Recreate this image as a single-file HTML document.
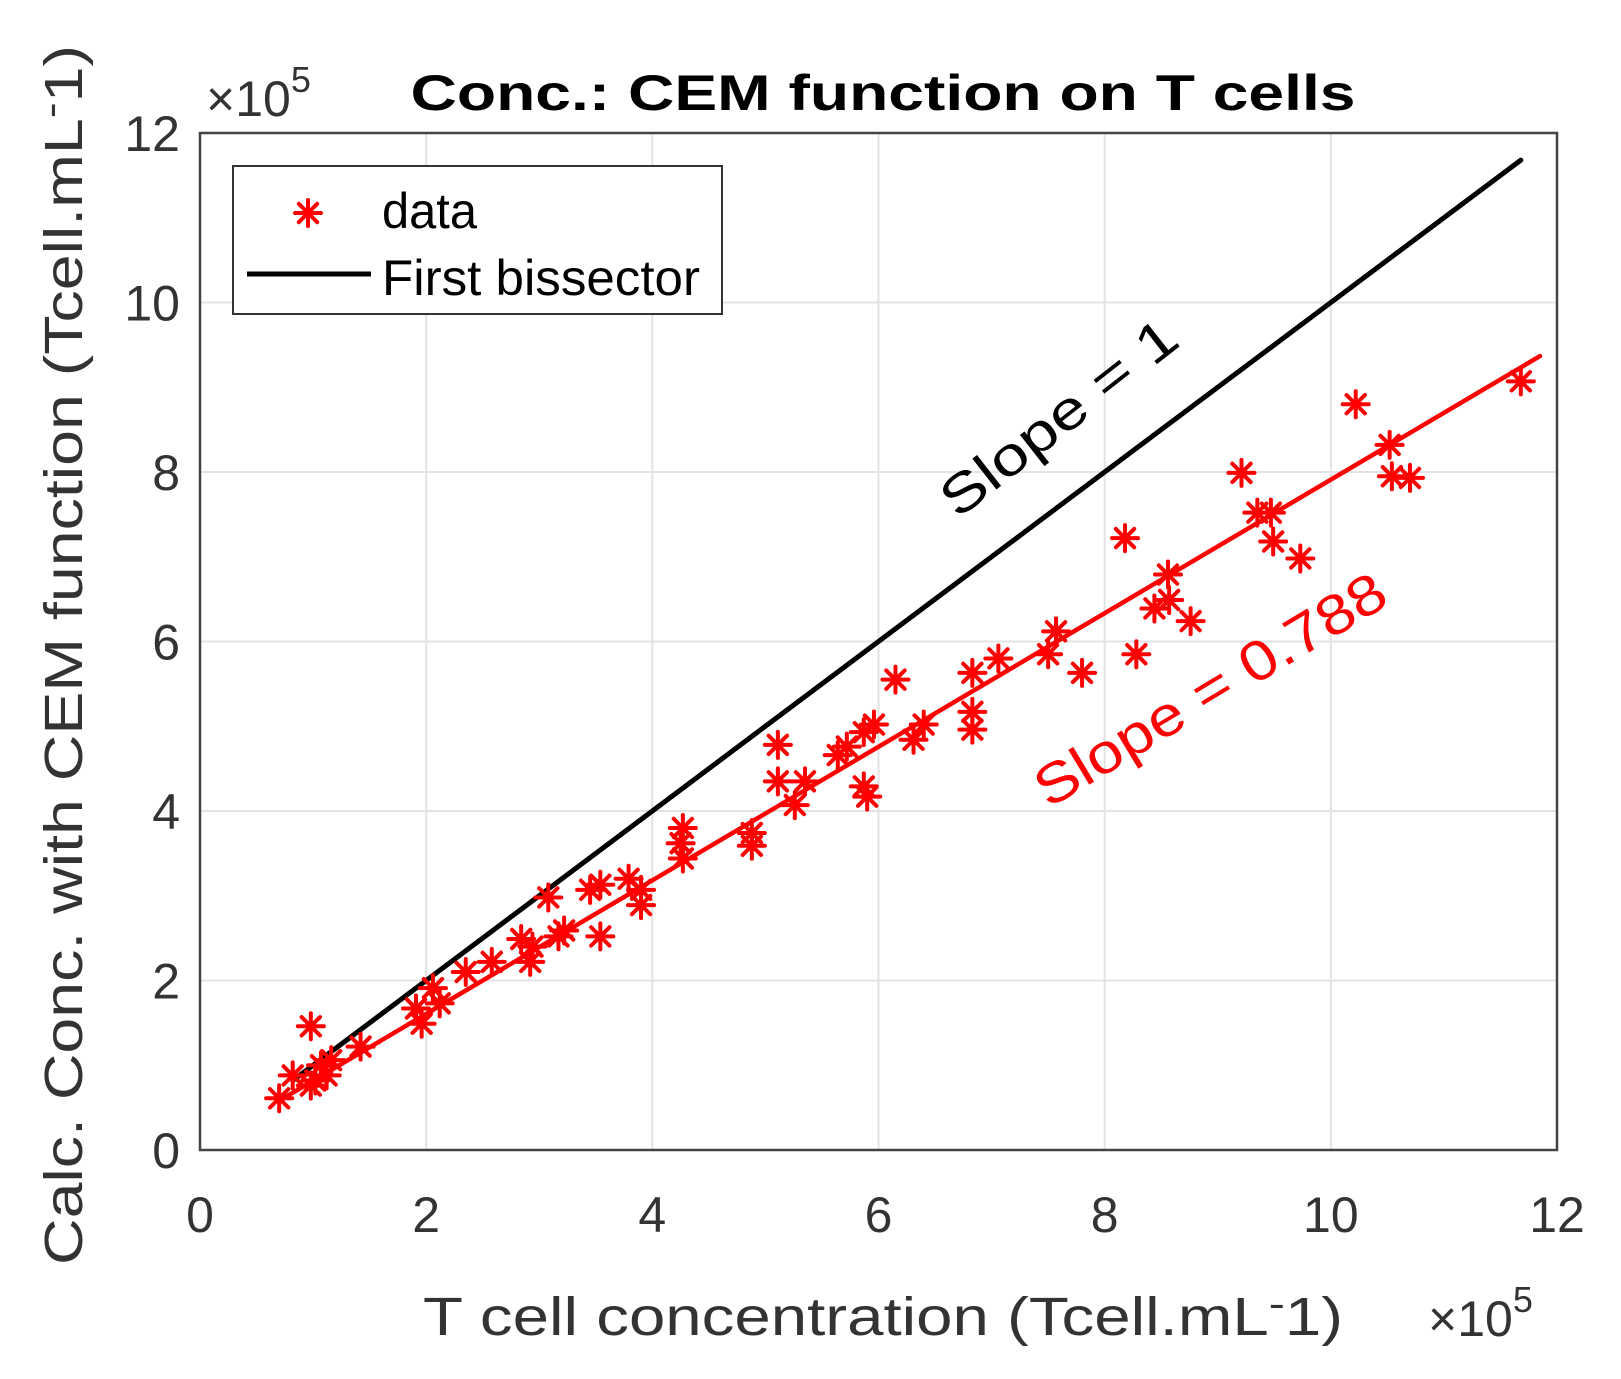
<!DOCTYPE html>
<html><head><meta charset="utf-8">
<style>html,body{margin:0;padding:0;background:#fff}svg{display:block}</style></head>
<body>
<svg id="chart" width="1621" height="1379" viewBox="0 0 1621 1379" xmlns="http://www.w3.org/2000/svg" font-family="'Liberation Sans', Arial, sans-serif">
<g id="grid"></g>
<g id="lines"></g>
<g id="points"></g>
<g id="axes"></g>
<text x="883" y="110" text-anchor="middle" font-size="50" font-weight="bold" textLength="945" lengthAdjust="spacingAndGlyphs">Conc.: CEM function on T cells</text>
<text x="206" y="116" font-size="50" fill="#333">×10<tspan font-size="36" dy="-24">5</tspan></text>
<text x="1428" y="1336" font-size="50" fill="#333">×10<tspan font-size="36" dy="-24">5</tspan></text>
<text x="883" y="1335" text-anchor="middle" font-size="54" fill="#333" textLength="920" lengthAdjust="spacingAndGlyphs">T cell concentration (Tcell.mL<tspan font-size="40" dy="-18">-</tspan><tspan dy="18">1)</tspan></text>
<text transform="translate(82,655) rotate(-90)" text-anchor="middle" font-size="54" fill="#333" textLength="1220" lengthAdjust="spacingAndGlyphs">Calc. Conc. with CEM function (Tcell.mL<tspan font-size="40" dy="-18">-</tspan><tspan dy="18">1)</tspan></text>
<text transform="translate(1070,432) rotate(-38)" text-anchor="middle" font-size="54" fill="#000" textLength="285" lengthAdjust="spacingAndGlyphs">Slope = 1</text>
<text transform="translate(1220,706) rotate(-31)" text-anchor="middle" font-size="56" fill="#ff0000" textLength="400" lengthAdjust="spacingAndGlyphs">Slope = 0.788</text>
<g>
<rect x="233" y="166" width="489" height="148" fill="#fff" stroke="#333" stroke-width="2"/>
<g id="legstar"></g>
<text x="382" y="228" font-size="50" textLength="95" lengthAdjust="spacingAndGlyphs">data</text>
<line x1="247" y1="274" x2="371" y2="274" stroke="#000" stroke-width="5"/>
<text x="382" y="295" font-size="50" textLength="318" lengthAdjust="spacingAndGlyphs">First bissector</text>
</g>
</svg>
<script>
const xData = [0.70,0.82,0.98,0.98,1.07,1.02,1.12,1.16,1.42,1.91,1.96,2.06,2.12,2.35,2.58,2.84,2.92,2.94,3.08,3.17,3.22,3.45,3.54,3.54,3.79,3.90,3.90,4.27,4.25,4.27,4.88,4.88,5.11,5.11,5.26,5.35,5.64,5.72,5.87,5.90,5.87,5.96,6.15,6.31,6.40,6.83,6.83,6.83,7.06,7.50,7.57,7.80,8.18,8.28,8.44,8.56,8.57,8.76,9.21,9.35,9.47,9.49,9.73,10.22,10.52,10.54,10.70,11.68];
const yData = [0.61,0.88,1.46,0.76,1.00,0.82,0.88,1.06,1.22,1.67,1.49,1.91,1.73,2.10,2.22,2.49,2.22,2.40,2.98,2.52,2.59,3.07,3.13,2.52,3.20,3.07,2.89,3.80,3.62,3.44,3.74,3.59,4.78,4.35,4.07,4.35,4.66,4.76,4.29,4.17,4.93,5.02,5.55,4.84,5.02,5.63,5.17,4.96,5.80,5.85,6.12,5.63,7.22,5.85,6.39,6.79,6.49,6.24,7.99,7.52,7.52,7.18,6.98,8.80,8.32,7.95,7.93,9.07];
const xTicks = [0,2,4,6,8,10,12];
const yTicks = [0,2,4,6,8,10,12];
const bisRange = [0.82,11.68];
const fitRange = [0.69,11.85];
const fitSlope = 0.788;
const fitIntercept = 0.03;

const X0=200,X1=1557,Y0=1150,Y1=133;
const sx=v=>X0+(v-0)/12*(X1-X0);
const sy=v=>Y0-(v-0)/12*(Y0-Y1);
const NS='http://www.w3.org/2000/svg';
function mk(tag,attrs,parent){const e=document.createElementNS(NS,tag);for(const k in attrs)e.setAttribute(k,attrs[k]);parent.appendChild(e);return e;}
const grid=document.getElementById('grid'),axes=document.getElementById('axes');
xTicks.forEach(t=>{
  const g=mk('line',{x1:sx(t),x2:sx(t),y1:Y0,y2:Y1,stroke:'#e3e3e3','stroke-width':2},grid);
  
  
  const tk=mk('text',{x:sx(t),y:1232,'text-anchor':'middle','font-size':50,fill:'#333'},axes);
  tk.textContent=t;
  
  
});
yTicks.forEach(t=>{
  const g=mk('line',{x1:X0,x2:X1,y1:sy(t),y2:sy(t),stroke:'#e3e3e3','stroke-width':2},grid);
  
  
  const tk=mk('text',{x:180,y:sy(t)+18,'text-anchor':'end','font-size':50,fill:'#333'},axes);
  tk.textContent=t;
  
  
});
const box=mk('rect',{x:X0,y:Y1,width:X1-X0,height:Y0-Y1,fill:'none',stroke:'#444','stroke-width':2.5},axes);



const lines=document.getElementById('lines');
const bl=mk('line',{x1:sx(bisRange[0]),y1:sy(bisRange[0]),x2:sx(bisRange[1]),y2:sy(bisRange[1]),stroke:'#000','stroke-width':5,'stroke-linecap':'round'},lines);


const fl=mk('line',{x1:sx(fitRange[0]),y1:sy(fitSlope*fitRange[0]+fitIntercept),x2:sx(fitRange[1]),y2:sy(fitSlope*fitRange[1]+fitIntercept),stroke:'#ff0000','stroke-width':4.5,'stroke-linecap':'round'},lines);



function star(cx,cy,parent){
  const g=mk('g',{stroke:'#ff0000','stroke-width':4,'stroke-linecap':'round'},parent);
  const r=13;
  for(let i=0;i<4;i++){const a=i*Math.PI/4;mk('line',{x1:cx-r*Math.cos(a),y1:cy-r*Math.sin(a),x2:cx+r*Math.cos(a),y2:cy+r*Math.sin(a)},g);}
  return g;
}
const pts=document.getElementById('points');
xData.forEach((x,i)=>{
  const s=star(sx(x),sy(yData[i]),pts);
  
  
});
const ls=star(308,213,document.getElementById('legstar'));


</script>
</body></html>
